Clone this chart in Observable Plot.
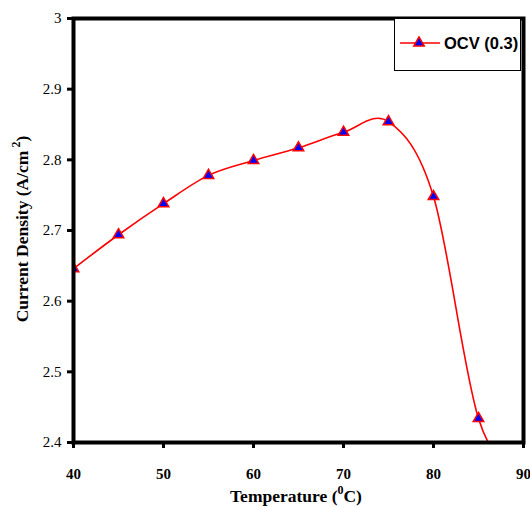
<!DOCTYPE html>
<html><head><meta charset="utf-8">
<script src="https://cdn.jsdelivr.net/npm/d3@7"></script>
<script src="https://cdn.jsdelivr.net/npm/@observablehq/plot@0.6"></script>
<style>body{margin:0;background:#fff} #chart{position:relative;width:530px;height:507px}</style>
</head><body><div id="chart"></div>
<script>
const temperatures = [40, 45, 50, 55, 60, 65, 70, 75, 80, 85, 90];
const currentDensity = [2.646, 2.694, 2.738, 2.778, 2.799, 2.817, 2.839, 2.854, 2.748, 2.434, 2.34];
const xTicks = [40, 50, 60, 70, 80, 90];
const yTicks = [2.4, 2.5, 2.6, 2.7, 2.8, 2.9, 3];
const seriesName = "OCV (0.3)";

const data = temperatures.map((t, i) => ({t, v: currentDensity[i]}));
const shown = data.filter(d => d.v >= 2.4);

const serif = "'Liberation Serif', 'Times New Roman', serif";
const sans = "'Liberation Sans', Arial, sans-serif";

const chart = Plot.plot({
  width: 530, height: 507,
  marginLeft: 73, marginRight: 7, marginTop: 18, marginBottom: 65,
  style: {background: "#fff", overflow: "visible"},
  x: {domain: [40, 90]},
  y: {domain: [2.4, 3]},
  marks: [
    Plot.line(data, {x: "t", y: "v", stroke: "#ff0000", strokeWidth: 1.6, curve: "cardinal", tension: 0, clip: true}),
    Plot.dot(shown, {x: "t", y: "v", symbol: "triangle", r: 3.9, fill: "#0000ff", stroke: "#ff0000", strokeWidth: 1.5, clip: true}),
    Plot.frame({stroke: "#000", strokeWidth: 4}),
    Plot.axisX({ticks: xTicks, tickSize: 6, tickPadding: 20, strokeWidth: 3, label: null,
      fontSize: 15, fontWeight: "bold", fontFamily: serif, fill: "#000", tickFormat: d => String(d)}),
    Plot.axisY({ticks: yTicks, tickSize: 6, tickPadding: 6, strokeWidth: 3, label: null,
      fontSize: 15, fontFamily: serif, fill: "#000", tickFormat: d => String(+d.toFixed(1))})
  ]
});
document.getElementById("chart").appendChild(chart);

const svg = d3.select(chart);
// x title
const xt = svg.append("text").attr("x", 296).attr("y", 502).attr("text-anchor", "middle")
  .attr("font-family", serif).attr("font-weight", "bold").attr("font-size", 17.5).attr("fill", "#000");
xt.append("tspan").text("Temperature (");
xt.append("tspan").attr("font-size", 12).attr("dy", -8).text("0");
xt.append("tspan").attr("dy", 8).text("C)");
// y title
const yt = svg.append("text").attr("transform", "translate(28,229) rotate(-90)").attr("text-anchor", "middle")
  .attr("font-family", serif).attr("font-weight", "bold").attr("font-size", 17.5).attr("fill", "#000");
yt.append("tspan").text("Current Density (A/cm");
yt.append("tspan").attr("font-size", 12).attr("dy", -8).text(" 2");
yt.append("tspan").attr("dy", 8).text(")");
// legend
const lg = svg.append("g").attr("text-anchor", "start");
lg.append("rect").attr("x", 394.5).attr("y", 18.5).attr("width", 126).attr("height", 52)
  .attr("fill", "#fff").attr("stroke", "#000").attr("stroke-width", 1);
lg.append("line").attr("x1", 400).attr("x2", 440).attr("y1", 43).attr("y2", 43)
  .attr("stroke", "#ff0000").attr("stroke-width", 1.6);
lg.append("path").attr("transform", "translate(419,43)")
  .attr("d", d3.symbol(d3.symbolTriangle, Math.PI * 3.9 * 3.9)())
  .attr("fill", "#0000ff").attr("stroke", "#ff0000").attr("stroke-width", 1.5);
lg.append("text").attr("x", 444).attr("y", 49).attr("text-anchor", "start").attr("font-family", sans).attr("font-weight", "bold")
  .attr("font-size", 16.5).attr("fill", "#000").text(seriesName);
</script>
</body></html>
